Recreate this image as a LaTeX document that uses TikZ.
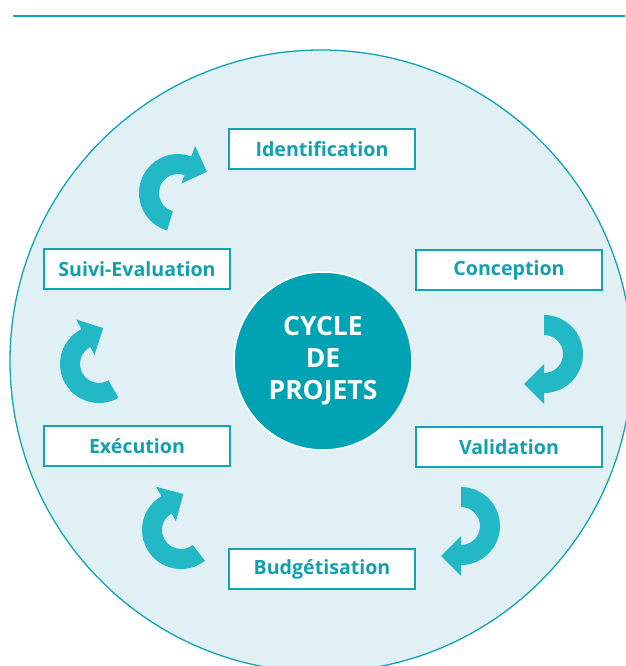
\documentclass[tikz,border=0pt]{standalone}
\usepackage{xcolor}
\usepackage{fontspec}
\setmainfont{Open Sans}
\usepackage{tikz}
\usetikzlibrary{calc}

\definecolor{ringline}{RGB}{16,164,180}
\definecolor{ringfill}{RGB}{224,240,244}
\definecolor{hubfill}{RGB}{0,163,179}
\definecolor{turnfill}{RGB}{34,184,198}
\definecolor{stagetext}{RGB}{18,159,175}

% curved arrow: centre x, centre y, tail angle, head angle
\newcommand{\cyclearrow}[4]{%
  \fill[turnfill] ($(#1,#2)+(#3:39)$) arc[start angle=#3, end angle=#4, radius=39]
    -- ($(#1,#2)+(#4:50)$) -- ($(#1,#2)+(#4:30)+({#4+90}:20)$) -- ($(#1,#2)+(#4:10)$)
    -- ($(#1,#2)+(#4:19)$) arc[start angle=#4, end angle=#3, radius=19] -- cycle;
}

\begin{document}
\begin{tikzpicture}[x=1pt,y=-1pt,
  stage/.style={draw=ringline,line width=1.6pt,fill=white,minimum width=186pt,minimum height=40pt,
    text=stagetext,font=\fontsize{19.6}{23}\selectfont\bfseries,inner sep=0pt},
  hub/.style={circle,draw=white,line width=1.5pt,fill=hubfill,minimum size=178pt,inner sep=0pt,
    text=white,align=center,font=\fontsize{26.5}{32}\selectfont\bfseries}]
\useasboundingbox (0,0) rectangle (625,666);

% Top rule
\draw[ringline,line width=2pt] (13,16) -- (625,16);

% Outer disc
\draw[ringline,fill=ringfill,line width=1.3pt] (321,361) circle[radius=311];

% Centre
\node[hub] (hub) at (323,361) {CYCLE\\DE\\PROJETS};

% Stages
\node[stage] (ident) at (322,149) {Identification};
\node[stage] (concep) at (509,270) {Conception};
\node[stage] (valid) at (509,447) {Validation};
\node[stage] (budget) at (322,569) {Budgétisation};
\node[stage] (exec) at (137,446) {Exécution};
\node[stage] (suivi) at (137,269) {Suivi-Evaluation};

% Turning arrows
\cyclearrow{178}{193}{106}{290}
\cyclearrow{544}{354}{270}{450}
\cyclearrow{461}{526}{270}{450}
\cyclearrow{181}{530}{52}{240}
\cyclearrow{99}{364}{60}{243}

\end{tikzpicture}
\end{document}
